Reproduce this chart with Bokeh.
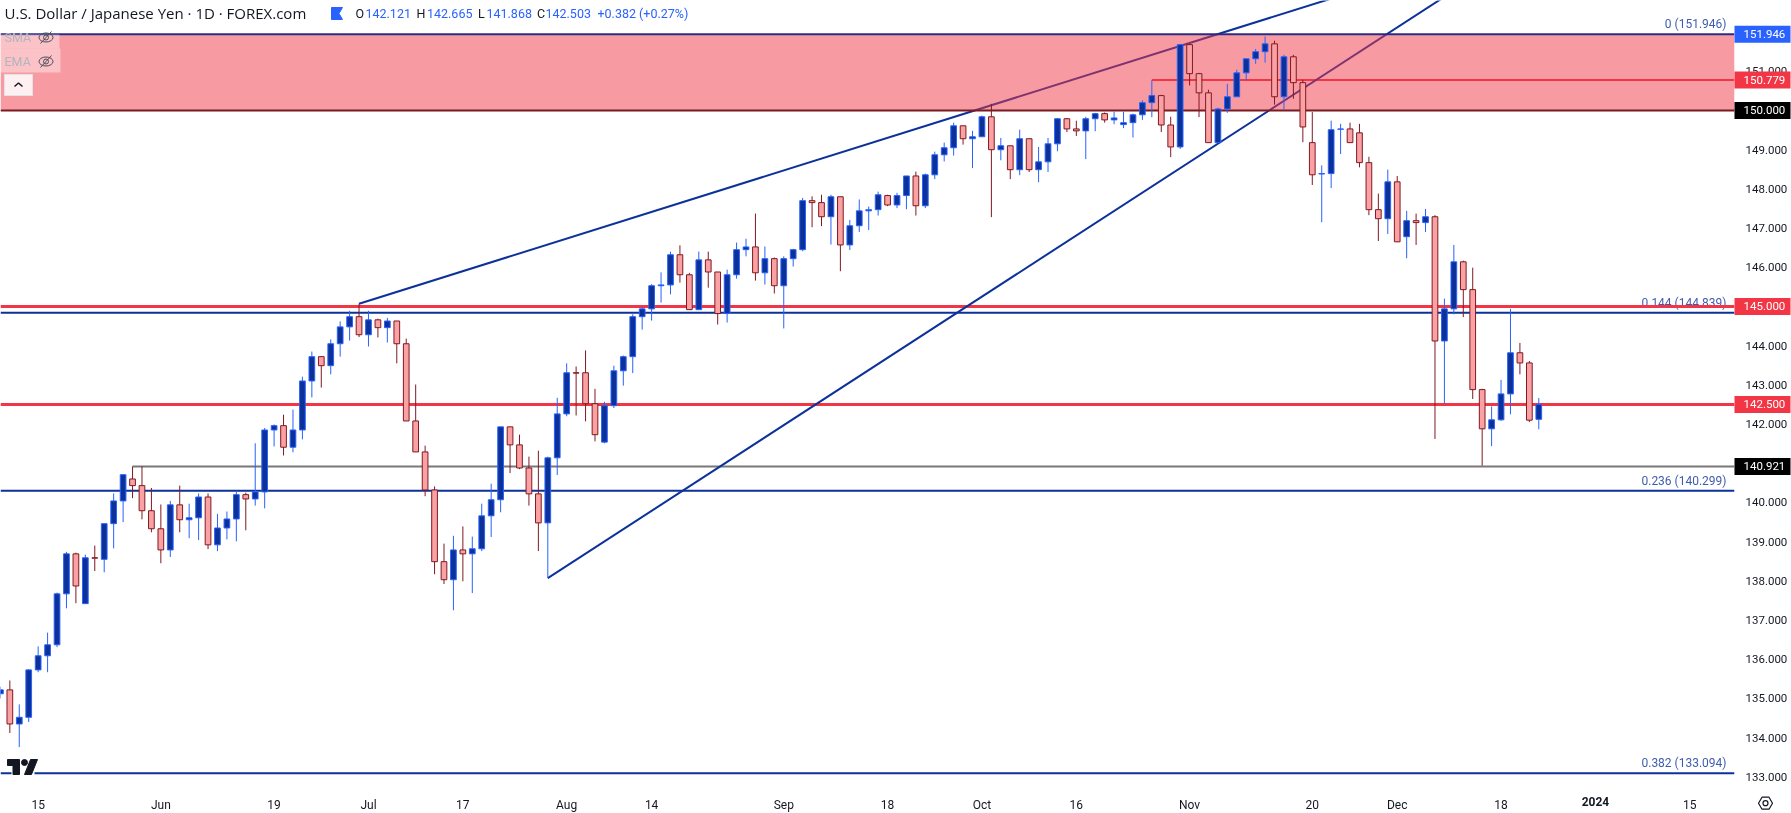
from bokeh.plotting import figure
from bokeh.embed import file_html
from bokeh.resources import INLINE
from bokeh.models import Range1d, FixedTicker, NumeralTickFormatter, Label, ColumnDataSource
from bokeh.core.properties import value

opens = [
135.12,135.22,134.35,134.52,135.73,136.09,136.37,137.67,138.69,137.42,
138.59,138.55,139.46,140.04,140.60,140.43,139.79,139.33,138.79,139.94,
139.56,139.61,140.14,138.92,139.35,139.58,140.20,140.09,140.27,141.85,
141.96,141.41,141.85,143.10,143.72,143.49,144.05,144.48,144.74,144.28,
144.66,144.46,144.63,144.05,142.08,141.29,140.32,138.49,138.03,138.79,
138.69,138.82,139.66,140.07,141.93,141.47,140.88,140.22,139.48,141.14,
142.26,143.31,143.31,142.52,141.54,142.47,143.36,143.72,144.74,144.94,
145.53,145.55,146.32,145.81,144.92,146.19,145.88,144.82,145.81,146.45,
146.52,145.86,146.22,145.53,146.22,146.45,147.70,147.65,147.29,147.80,
146.57,147.06,147.44,147.47,147.83,147.59,147.83,148.33,147.57,148.36,
148.87,149.05,149.61,149.28,149.33,149.84,149.00,149.10,148.49,149.28,
148.49,148.69,149.15,149.79,149.53,149.48,149.79,149.92,149.76,149.64,
149.69,149.89,150.20,150.38,149.63,149.07,151.68,150.94,150.45,149.18,
150.04,150.35,150.96,151.32,151.50,151.70,150.35,151.37,150.71,149.18,
148.38,148.39,149.52,149.53,149.43,148.67,147.47,147.24,148.18,146.78,
147.19,147.14,147.29,144.12,144.94,146.14,145.43,142.88,141.88,142.11,
142.77,143.82,143.56,142.121]
highs = [
135.30,135.46,134.85,135.75,136.33,136.68,137.70,138.74,138.72,138.67,
138.90,139.46,140.23,140.71,140.92,140.92,140.37,139.95,140.04,140.43,
139.97,140.23,140.23,139.71,139.77,140.30,140.25,141.51,141.90,141.99,
142.24,142.37,143.21,143.85,143.72,144.16,144.62,144.89,145.07,144.89,
144.69,144.71,144.63,144.18,143.01,141.45,140.41,138.95,139.15,139.39,
139.13,139.97,140.48,141.93,141.93,141.73,141.17,141.32,141.17,142.67,
143.55,143.47,143.88,142.90,142.57,143.49,143.75,144.80,144.99,145.57,
145.87,146.40,146.56,145.86,146.40,146.40,145.88,145.94,146.63,146.73,
147.37,146.53,146.25,146.28,146.47,147.77,147.81,147.85,147.85,147.80,
147.21,147.73,147.55,147.93,147.85,147.90,148.33,148.44,148.39,148.95,
149.18,149.69,149.61,149.48,149.87,150.17,149.30,149.10,149.51,149.28,
149.07,149.30,149.81,149.81,149.74,149.84,149.94,149.95,149.97,149.97,
149.92,150.26,150.77,150.40,149.84,151.70,151.70,150.96,150.53,150.07,
150.68,151.04,151.32,151.57,151.89,151.78,151.42,151.42,150.78,149.96,
148.60,149.74,149.66,149.69,149.66,148.82,147.88,148.49,148.33,147.44,
147.37,147.49,147.33,145.20,146.57,146.17,145.99,142.90,142.45,143.13,
144.94,144.07,143.61,142.665]
lows = [
135.00,134.12,133.76,134.40,135.67,135.67,136.31,137.30,137.43,137.42,
138.25,138.22,138.83,139.50,140.11,139.57,139.24,138.45,138.61,139.24,
139.09,139.04,138.81,138.76,139.06,139.01,139.29,139.92,139.85,141.43,
141.20,141.28,141.61,142.68,142.93,143.27,143.72,144.13,144.22,143.98,
144.21,144.08,143.55,142.08,141.29,140.16,138.17,137.92,137.25,137.99,
137.69,138.76,139.12,139.75,140.75,140.85,139.92,138.76,138.07,140.70,
142.20,142.22,142.07,141.56,141.51,142.41,142.98,143.30,144.41,144.64,
145.10,145.31,145.61,144.92,144.92,145.48,144.54,144.59,145.71,146.28,
145.66,145.56,145.33,144.44,146.02,146.41,147.02,147.05,146.58,145.90,
146.44,146.90,146.95,147.32,147.56,147.51,147.48,147.32,147.51,148.25,
148.70,148.85,149.13,148.53,149.33,147.28,148.73,148.25,148.35,148.43,
148.17,148.43,148.96,149.45,149.35,148.76,149.47,149.69,149.65,149.55,
149.31,149.76,149.83,149.45,148.81,149.02,150.64,149.83,149.18,149.18,
149.94,150.35,150.78,151.19,151.22,150.15,150.03,150.30,149.19,148.10,
147.15,148.02,148.89,149.18,148.55,147.33,146.67,146.85,146.65,146.23,
146.57,146.90,141.62,142.52,144.80,144.73,142.64,140.94,141.44,142.08,
142.25,143.27,142.05,141.868]
closes = [
135.22,134.35,134.52,135.73,136.09,136.37,137.67,138.69,137.87,138.59,
138.58,139.46,140.04,140.71,140.43,139.79,139.33,138.79,139.94,139.56,
139.61,140.14,138.92,139.35,139.58,140.20,140.09,140.27,141.85,141.96,
141.41,141.85,143.10,143.72,143.49,144.05,144.48,144.74,144.28,144.66,
144.46,144.63,144.05,142.08,141.29,140.32,138.49,138.03,138.79,138.69,
138.82,139.66,140.07,141.93,141.47,140.88,140.22,139.48,141.14,142.26,
143.31,143.30,142.52,141.73,142.47,143.36,143.72,144.74,144.94,145.53,
145.55,146.32,145.81,144.92,146.19,145.88,144.82,145.81,146.45,146.52,
145.86,146.22,145.53,146.22,146.45,147.70,147.65,147.29,147.80,146.57,
147.06,147.44,147.47,147.85,147.59,147.83,148.33,147.57,148.36,148.87,
149.05,149.61,149.28,149.33,149.84,149.00,149.10,148.49,149.28,148.49,
148.69,149.15,149.79,149.53,149.48,149.79,149.92,149.76,149.81,149.69,
149.89,150.20,150.38,149.63,149.07,151.68,150.94,150.45,149.18,150.04,
150.35,150.96,151.32,151.50,151.70,150.35,151.37,150.71,149.58,148.36,
148.39,149.51,149.53,149.18,148.67,147.47,147.24,148.18,146.65,147.19,
147.14,147.29,144.12,144.94,146.14,145.43,142.88,141.88,142.11,142.77,
143.82,143.56,142.10,142.503]

tick_idx = [4,17,29,39,49,60,69,83,94,104,114,126,139,148,159,179]
tick_lbl = ["15","Jun","19","Jul","17","Aug","14","Sep","18","Oct","16","Nov","20","Dec","18","15"]
year_idx = 169
year_lbl = "2024"
price_ticks = list(range(133, 152))

fib_levels = [151.946, 144.839, 140.299, 133.094]
fib_labels = ["0 (151.946)", "0.144 (144.839)", "0.236 (140.299)", "0.382 (133.094)"]
red_levels = [145.0, 142.5]
zone_low, zone_high = 150.0, 151.946
hline_150779 = (122, 150.779)
hline_140921 = (14, 140.921)
trend1_x = [38, 142]; trend1_y = [145.07, 152.93]
trend2_x = [58, 153]; trend2_y = [138.07, 152.90]
tag_prices = [151.946, 150.779, 150.0, 145.0, 142.5, 140.921]
tag_texts = ["151.946", "150.779", "150.000", "145.000", "142.500", "140.921"]
tag_colors = ["#2962FF", "#F23645", "#000000", "#F23645", "#F23645", "#000000"]

PX_PER_BAR, PX0 = 9.438, -0.1
PX_PER_PRICE, PRICE_TOP = 39.2, 152.806
W, H, FR, FB = 1791, 813, 1734, 786
X = lambda px: (px - PX0) / PX_PER_BAR
Y = lambda py: PRICE_TOP - py / PX_PER_PRICE
XMIN, XMAX = X(0), X(FR)

FONT = "Roboto"
INK = "#131722"
BLUE, DBLUE, RED, DRED = "#2962FF", "#0C3299", "#F23645", "#801922"

p = figure(width=W, height=H, output_backend="svg", toolbar_location=None,
           frame_width=FR, frame_height=FB,
           x_range=Range1d(XMIN, XMAX), y_range=Range1d(Y(FB), Y(0)),
           min_border_left=0, min_border_top=0, min_border_right=W - FR, min_border_bottom=H - FB,
           x_axis_location="below", y_axis_location="right",
           outline_line_color=None, border_fill_color="white", background_fill_color="white",
           styles={"position": "fixed", "left": "0px", "top": "0px"})
p.grid.visible = False

xa = p.xaxis[0]
xa.ticker = FixedTicker(ticks=tick_idx)
xa.major_label_overrides = dict(zip(tick_idx, tick_lbl))
ya = p.yaxis[0]
ya.ticker = FixedTicker(ticks=price_ticks)
ya.formatter = NumeralTickFormatter(format="0.000")
for ax in (xa, ya):
    ax.axis_line_color = None
    ax.major_tick_line_color = None
    ax.minor_tick_line_color = None
    ax.major_label_text_font = FONT
    ax.major_label_text_color = INK
xa.major_label_text_font_size = "12px"
ya.major_label_text_font_size = "11.5px"
xa.major_label_standoff = 5
ya.major_label_standoff = 5

p.text(x=[X(1726)] * 4, y=fib_levels, text=fib_labels, text_font=value(FONT), text_font_size="12px",
       text_color=DBLUE, text_alpha=0.8, text_align="right", text_baseline="middle", y_offset=-10)

p.segment(x0=[XMIN] * 3, x1=[XMAX] * 3, y0=fib_levels[1:], y1=fib_levels[1:], line_color=DBLUE, line_width=2)
p.segment(x0=[hline_140921[0]], x1=[XMAX], y0=[hline_140921[1]], y1=[hline_140921[1]], line_color="#787878", line_width=2)
p.segment(x0=[XMIN] * 2, x1=[XMAX] * 2, y0=red_levels, y1=red_levels, line_color=RED, line_width=3)
p.segment(x0=[hline_150779[0]], x1=[XMAX], y0=[hline_150779[1]], y1=[hline_150779[1]], line_color=RED, line_width=2)
p.line(trend1_x, trend1_y, line_color=DBLUE, line_width=2)
p.line(trend2_x, trend2_y, line_color=DBLUE, line_width=2)

p.quad(left=[XMIN], right=[XMAX], bottom=[zone_low], top=[zone_high], fill_color=RED, fill_alpha=0.5, line_color=None)
p.segment(x0=[XMIN], x1=[XMAX], y0=[zone_low], y1=[zone_low], line_color="#791B22", line_width=2)
p.segment(x0=[XMIN], x1=[XMAX], y0=[zone_high], y1=[zone_high], line_color="#2B2B85", line_width=2)

idx = list(range(len(closes)))
up = [c >= o for o, c in zip(opens, closes)]
src = ColumnDataSource(dict(
    x=idx, h=highs, l=lows,
    top=[max(o, c) for o, c in zip(opens, closes)],
    bot=[min(o, c) for o, c in zip(opens, closes)],
    wick=[BLUE if u else DRED for u in up],
    body=[DBLUE if u else "#FAA1A4" for u in up]))
p.segment(x0="x", x1="x", y0="h", y1="l", line_color="wick", line_width=1, source=src)
p.vbar(x="x", width=5.7 / PX_PER_BAR, top="top", bottom="bot", fill_color="body", line_color="wick", line_width=1, source=src)

p.quad(left=[X(0)] * 2, right=[X(59), X(60)], top=[Y(34), Y(48)], bottom=[Y(48), Y(72)], fill_color="#ffffff", fill_alpha=0.4, line_color=None)
p.quad(left=[X(4)], right=[X(32)], top=[Y(74)], bottom=[Y(95)], fill_color="#ffffff", fill_alpha=0.85, line_color="#E0E3EB", line_width=1)
p.line([X(14), X(18), X(22)], [Y(86), Y(82.5), Y(86)], line_color=INK, line_width=1.5)
for name, yy in (("SMA", 37), ("EMA", 61)):
    p.add_layout(Label(x=X(4), y=Y(yy), text=name, text_font=FONT, text_font_size="12.5px", text_color="#B2B5BE", text_baseline="middle"))
    p.ellipse(x=[X(45.5)], y=[Y(yy)], width=[14], height=[9], width_units="screen", height_units="screen", fill_color=None, line_color="#4A4E5A", line_width=1)
    p.ellipse(x=[X(45.5)], y=[Y(yy)], width=[5], height=[5], width_units="screen", height_units="screen", fill_color=None, line_color="#4A4E5A", line_width=1)
    p.line([X(40), X(51)], [Y(yy + 6), Y(yy - 6)], line_color="#4A4E5A", line_width=1)

p.quad(left=[X(11)], right=[X(34)], top=[Y(771)], bottom=[Y(775)], fill_color="white", line_color=None)
p.patch([X(7), X(19), X(19), X(12.5), X(12.5), X(7)], [Y(759), Y(759), Y(774), Y(774), Y(765), Y(765)], color=INK)
p.ellipse(x=[X(24)], y=[Y(762)], width=[6], height=[6], width_units="screen", height_units="screen", color=INK)
p.patch([X(30), X(37), X(31), X(24)], [Y(759), Y(759), Y(774), Y(774)], color=INK)

def head(px, txt, color, size="12.5px", font=FONT):
    p.add_layout(Label(x=X(px), y=Y(12.7), text=txt, text_font=font, text_font_size=size, text_color=color, text_baseline="middle"))
head(4, "U.S. Dollar / Japanese Yen · 1D · FOREX.com", INK, "15px", "Open Sans")
p.patch([X(331), X(342), X(338.5), X(342), X(331)], [Y(7), Y(7), Y(13), Y(19), Y(19)], color=BLUE)
for px, txt, col in ((355, "O", INK), (365, "142.121", BLUE), (416, "H", INK), (426.5, "142.665", BLUE),
                     (477.5, "L", INK), (486, "141.868", BLUE), (536.5, "C", INK), (545, "142.503", BLUE),
                     (597, "+0.382 (+0.27%)", BLUE)):
    head(px, txt, col)

# transparent overlay that shares the price and bar scales, for what lies on the scale strips
q = figure(width=W, height=H, output_backend="svg", toolbar_location=None,
           x_range=Range1d(X(0), X(W)), y_range=Range1d(Y(H), Y(0)),
           min_border=0, outline_line_color=None, x_axis_type=None, y_axis_type=None,
           border_fill_alpha=0, background_fill_alpha=0,
           styles={"position": "fixed", "left": "0px", "top": "0px"})
q.grid.visible = False
half = 8.5 / PX_PER_PRICE
q.quad(left=[X(FR)] * 6, right=[X(1790)] * 6, top=[v + half for v in tag_prices], bottom=[v - half for v in tag_prices],
       fill_color=tag_colors, line_color=None)
q.text(x=[X(1743)] * 6, y=tag_prices, text=tag_texts, text_font=value(FONT), text_font_size="11.5px",
       text_color="white", text_baseline="middle")
q.text(x=[year_idx], y=[Y(801)], text=[year_lbl], text_font=value(FONT), text_font_size="12px", text_font_style="bold",
       text_color=INK, text_align="center", text_baseline="middle")
cx, cy = 1765, 802.7
q.patch([X(cx - 7), X(cx - 3.5), X(cx + 3.5), X(cx + 7), X(cx + 3.5), X(cx - 3.5)],
        [Y(cy), Y(cy - 6), Y(cy - 6), Y(cy), Y(cy + 6), Y(cy + 6)], fill_alpha=0, line_color=INK, line_width=1.2)
q.ellipse(x=[X(cx)], y=[Y(cy)], width=[5], height=[5], width_units="screen", height_units="screen", fill_color=None, line_color=INK, line_width=1.2)

open("out.html", "w").write(file_html((p, q), INLINE))
